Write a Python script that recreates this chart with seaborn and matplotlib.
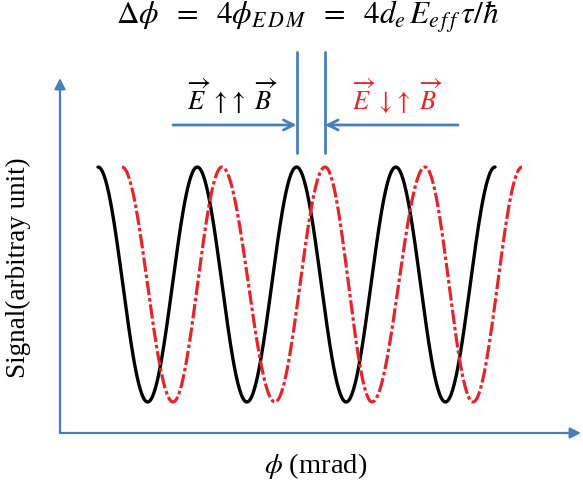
import numpy as np
import pandas as pd
import matplotlib
matplotlib.use("Agg")
import matplotlib.pyplot as plt
import seaborn as sns

# Extremum positions (in units of one fringe period) and signal levels
black_extrema_x = [0.0, 0.5, 1.0, 1.5, 2.0, 2.5, 3.0, 3.5, 4.0]
black_extrema_y = [1, 0, 1, 0, 1, 0, 1, 0, 1]
red_extrema_x = [0.242, 0.756, 1.249, 1.783, 2.287, 2.761, 3.295, 3.778, 4.272]
red_extrema_y = [1, 0, 1, 0, 1, 0, 1, 0, 1]

title_text = (r"$\Delta\phi\;\ =\;\ 4\phi_{E\,D\,M}\;\ =\;\ "
              r"4d_e\,E_{e\,f\,f}\,\tau/\hbar$")
label_parallel = r"$\overrightarrow{E}\ \uparrow\!\uparrow\ \overrightarrow{B}$"
label_antiparallel = r"$\overrightarrow{E}\ \downarrow\!\uparrow\ \overrightarrow{B}$"
xlabel_text = r"$\phi$ (mrad)"
ylabel_text = "Signal(arbitray unit)"

BLUE = "#4a7ebb"
RED = "#e3262b"


def fringe(ext_x, ext_y, n=60):
    """Join successive extrema with half-cosine segments."""
    xs, ys = [], []
    for (x0, y0), (x1, y1) in zip(zip(ext_x, ext_y), zip(ext_x[1:], ext_y[1:])):
        t = np.linspace(0, 1, n, endpoint=False)
        xs.append(x0 + (x1 - x0) * t)
        ys.append(y0 + (y1 - y0) * (1 - np.cos(np.pi * t)) / 2)
    xs.append([ext_x[-1]])
    ys.append([ext_y[-1]])
    return np.concatenate(xs), np.concatenate(ys)


bx, by = fringe(black_extrema_x, black_extrema_y)
rx, ry = fringe(red_extrema_x, red_extrema_y)
df = pd.concat([
    pd.DataFrame({"phi": bx, "signal": by, "field": "parallel"}),
    pd.DataFrame({"phi": rx, "signal": ry, "field": "antiparallel"}),
])

sns.set_theme(style="white")
plt.rcParams["mathtext.fontset"] = "stix"
plt.rcParams["font.family"] = ["Liberation Serif", "DejaVu Serif"]
plt.rcParams["text.color"] = "black"

W, H = 583, 491
fig = plt.figure(figsize=(W / 100, H / 100), dpi=100)
ax = fig.add_axes([60 / W, (H - 433) / H, (581 - 60) / W, (433 - 78) / H])

sns.lineplot(data=df[df.field == "parallel"], x="phi", y="signal",
             color="black", lw=2.4, ax=ax, sort=False, estimator=None)
sns.lineplot(data=df[df.field == "antiparallel"], x="phi", y="signal",
             color=RED, lw=2.3, ax=ax, sort=False, estimator=None,
             dashes=False)
ax.lines[-1].set_dashes((4.5, 0.9, 1.1, 0.9))

ax.set_xlim(-0.383, 4.866)
ax.set_ylim(-0.132, 1.379)
ax.set_xticks([])
ax.set_yticks([])
ax.set_xlabel("")
ax.set_ylabel("")
for s in ax.spines.values():
    s.set_visible(False)

# axis arrows
ax.annotate("", xy=(0, 1), xytext=(0, 0), xycoords="axes fraction",
            arrowprops=dict(arrowstyle="-|>", color=BLUE, lw=1.6,
                            mutation_scale=16, shrinkA=0, shrinkB=0),
            annotation_clip=False)
ax.annotate("", xy=(1, 0), xytext=(0, 0), xycoords="axes fraction",
            arrowprops=dict(arrowstyle="-|>", color=BLUE, lw=1.6,
                            mutation_scale=16, shrinkA=0, shrinkB=0),
            annotation_clip=False)

# phase-shift markers on the central peaks
peak_black = black_extrema_x[4]
peak_red = red_extrema_x[4]
for px in (peak_black, peak_red):
    ax.plot([px, px], [1.06, 1.489], color=BLUE, lw=2.0, clip_on=False)

ax.annotate("", xy=(peak_black, 1.179), xytext=(0.756, 1.179),
            arrowprops=dict(arrowstyle="->", color=BLUE, lw=2.0,
                            mutation_scale=18, shrinkA=0, shrinkB=0),
            annotation_clip=False)
ax.annotate("", xy=(peak_red, 1.179), xytext=(3.627, 1.179),
            arrowprops=dict(arrowstyle="->", color=BLUE, lw=2.0,
                            mutation_scale=18, shrinkA=0, shrinkB=0),
            annotation_clip=False)

ax.text(1.35, 1.306, label_parallel, color="black", fontsize=19,
        ha="center", va="center", clip_on=False)
ax.text(3.013, 1.306, label_antiparallel, color=RED, fontsize=19,
        ha="center", va="center", clip_on=False)

fig.text(308 / W, 1 - 17 / H, title_text, fontsize=22.5, ha="center", va="center")
fig.text(316 / W, 1 - 466 / H, xlabel_text, fontsize=20.5, ha="center", va="center")
fig.text(18 / W, 1 - 268 / H, ylabel_text, fontsize=19.5, ha="center", va="center",
         rotation=90)

fig.savefig("out.png", dpi=100, facecolor="white")
